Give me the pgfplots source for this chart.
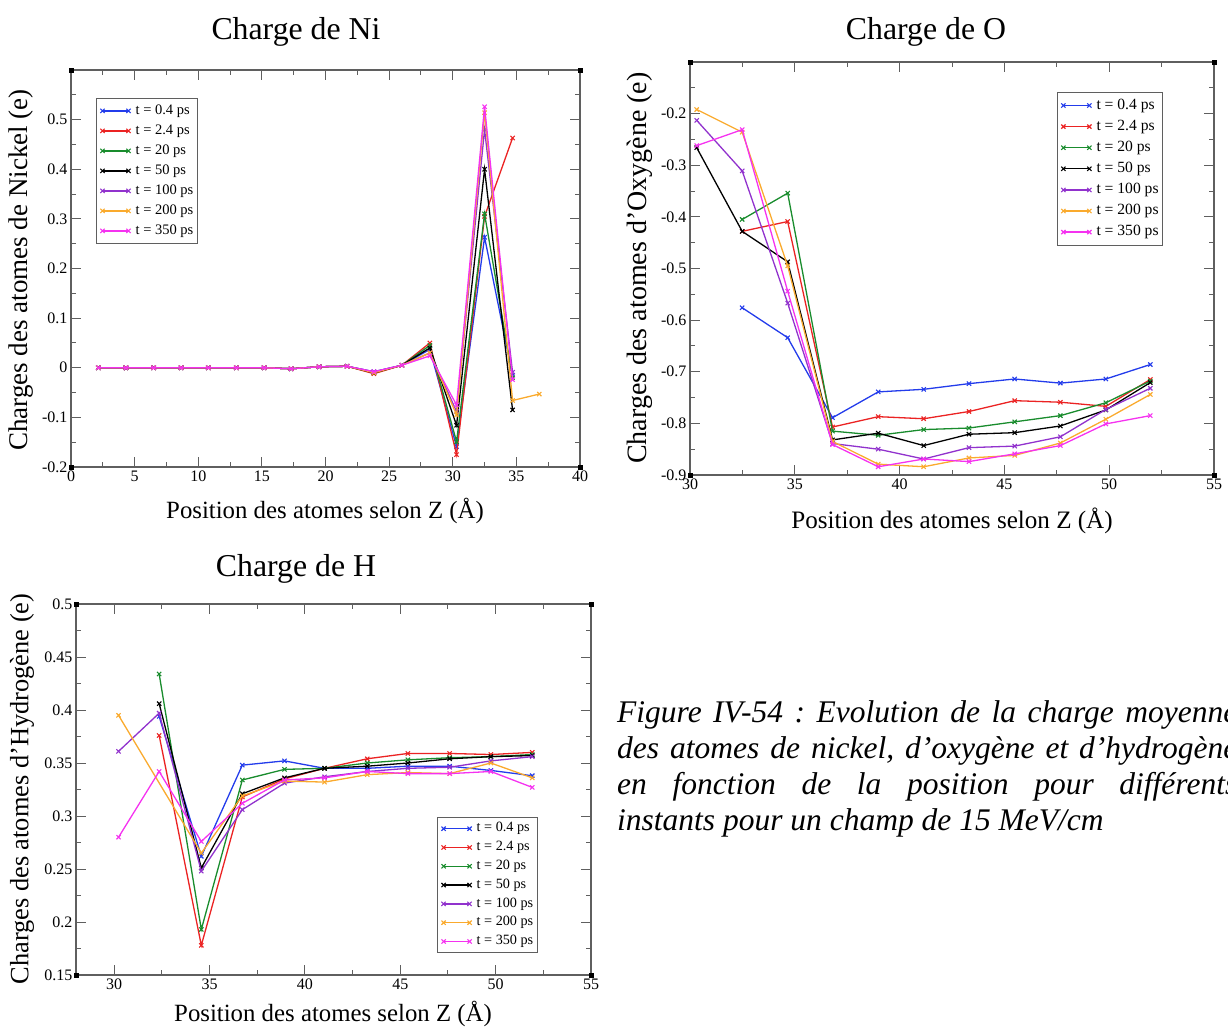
\documentclass[border=0pt]{standalone}
\usepackage{fontspec}
\setmainfont{Liberation Serif}
\usepackage{pgfplots}
\pgfplotsset{compat=1.18}
\frenchspacing
\definecolor{cblue}{RGB}{35,60,235}
\definecolor{cred}{RGB}{235,35,35}
\definecolor{cgreen}{RGB}{25,140,45}
\definecolor{cblack}{RGB}{0,0,0}
\definecolor{cpurple}{RGB}{145,50,205}
\definecolor{corange}{RGB}{250,170,45}
\definecolor{cmag}{RGB}{245,50,240}
\definecolor{axgray}{RGB}{95,95,95}
\newcommand{\fs}[1]{\fontsize{#1}{#1}\selectfont}
\pgfplotsset{
  xmg/.style={
    scale only axis,
    anchor=south west,
    clip mode=individual,
    axis line style={draw=axgray, line width=1.3pt},
    tick style={draw=axgray, line width=1pt},
    major tick length=10pt,
    minor tick length=5pt,
    tick align=inside,
    xtick pos=both, ytick pos=both,
    tick label style={font=\fs{16}},
    every axis plot/.append style={line width=1.3pt, mark=x, mark size=3pt, mark options={solid, line width=1.1pt}},
    legend cell align=left,
    legend image code/.code={\draw[##1, line width=1.3pt, mark options={solid, line width=1.1pt}] plot coordinates {(0pt,0pt) (26pt,0pt)};},
    legend style={anchor=north west, draw=axgray, line width=0.9pt, fill=white,
      inner xsep=4pt, column sep=5pt},
    after end axis/.code={
      \fill[black] (rel axis cs:0,0) ++(-2.5pt,-2.5pt) rectangle ++(5pt,5pt);
      \fill[black] (rel axis cs:1,0) ++(-2.5pt,-2.5pt) rectangle ++(5pt,5pt);
      \fill[black] (rel axis cs:0,1) ++(-2.5pt,-2.5pt) rectangle ++(5pt,5pt);
      \fill[black] (rel axis cs:1,1) ++(-2.5pt,-2.5pt) rectangle ++(5pt,5pt);
    },
  },
}
\begin{document}
\begin{tikzpicture}[x=1pt,y=1pt]
\path[use as bounding box] (0,0) rectangle (1228,-1028);

% ---------------- Ni ----------------
\begin{axis}[xmg, at={(71pt,-467pt)}, width=509pt, height=397pt,
  xmin=0, xmax=40, ymin=-0.2, ymax=0.6,
  xtick={0,5,10,15,20,25,30,35,40}, xticklabels={0,5,10,15,20,25,30,35,40},
  minor xtick={2.5,7.5,12.5,17.5,22.5,27.5,32.5,37.5},
  ytick={-0.2,-0.1,0,0.1,0.2,0.3,0.4,0.5}, yticklabels={-0.2,-0.1,0,0.1,0.2,0.3,0.4,0.5},
  minor ytick={-0.15,-0.05,0.05,0.15,0.25,0.35,0.45,0.55},
  legend style={at={(0.049,0.929)}, font=\fs{14.5}, inner ysep=5.5pt, row sep=6.5pt,
    nodes={inner sep=0pt, text height=10pt, text depth=3.5pt}},
]
\addplot[cblue] coordinates {(2.15,0)(4.32,0)(6.5,0)(8.65,0)(10.8,0)(13.0,0)(15.17,0)(17.3,-0.002)(19.5,0.002)(21.7,0.003)(23.8,-0.008)(26.0,0.005)(28.2,0.037)(30.3,-0.159)(32.5,0.263)(34.7,-0.015)};
\addlegendentry{t = 0.4 ps}
\addplot[cred] coordinates {(2.15,0)(4.32,0)(6.5,0)(8.65,0)(10.8,0)(13.0,0)(15.17,0)(17.3,-0.002)(19.5,0.002)(21.7,0.003)(23.8,-0.012)(26.0,0.005)(28.2,0.050)(30.3,-0.175)(32.5,0.305)(34.7,0.463)};
\addlegendentry{t = 2.4 ps}
\addplot[cgreen] coordinates {(2.15,0)(4.32,0)(6.5,0)(8.65,0)(10.8,0)(13.0,0)(15.17,0)(17.3,-0.002)(19.5,0.002)(21.7,0.003)(23.8,-0.010)(26.0,0.005)(28.2,0.045)(30.3,-0.149)(32.5,0.310)(34.7,-0.020)};
\addlegendentry{t = 20 ps}
\addplot[cblack] coordinates {(2.15,0)(4.32,0)(6.5,0)(8.65,0)(10.8,0)(13.0,0)(15.17,0)(17.3,-0.002)(19.5,0.002)(21.7,0.003)(23.8,-0.010)(26.0,0.005)(28.2,0.040)(30.3,-0.116)(32.5,0.400)(34.7,-0.085)};
\addlegendentry{t = 50 ps}
\addplot[cpurple] coordinates {(2.15,0)(4.32,0)(6.5,0)(8.65,0)(10.8,0)(13.0,0)(15.17,0)(17.3,-0.002)(19.5,0.002)(21.7,0.003)(23.8,-0.008)(26.0,0.005)(28.2,0.030)(30.3,-0.088)(32.5,0.480)(34.7,-0.009)};
\addlegendentry{t = 100 ps}
\addplot[corange] coordinates {(2.15,0)(4.32,0)(6.5,0)(8.65,0)(10.8,0)(13.0,0)(15.17,0)(17.3,-0.002)(19.5,0.002)(21.7,0.003)(23.8,-0.010)(26.0,0.005)(28.2,0.030)(30.3,-0.095)(32.5,0.514)(34.7,-0.066)(36.8,-0.053)};
\addlegendentry{t = 200 ps}
\addplot[cmag] coordinates {(2.15,0)(4.32,0)(6.5,0)(8.65,0)(10.8,0)(13.0,0)(15.17,0)(17.3,-0.002)(19.5,0.002)(21.7,0.003)(23.8,-0.008)(26.0,0.005)(28.2,0.024)(30.3,-0.075)(32.5,0.526)(34.7,-0.024)};
\addlegendentry{t = 350 ps}
\end{axis}

% ---------------- O ----------------
\begin{axis}[xmg, at={(690pt,-475pt)}, width=524pt, height=413pt,
  xmin=30, xmax=55, ymin=-0.9, ymax=-0.1,
  xtick={30,35,40,45,50,55}, xticklabels={30,35,40,45,50,55},
  minor xtick={32.5,37.5,42.5,47.5,52.5},
  ytick={-0.9,-0.8,-0.7,-0.6,-0.5,-0.4,-0.3,-0.2}, yticklabels={-0.9,-0.8,-0.7,-0.6,-0.5,-0.4,-0.3,-0.2},
  minor ytick={-0.85,-0.75,-0.65,-0.55,-0.45,-0.35,-0.25,-0.15},
  legend style={at={(0.700,0.927)}, font=\fs{15.6}, inner ysep=5.5pt, row sep=6.3pt,
    nodes={inner sep=0pt, text height=11pt, text depth=3.8pt}},
]
\addplot[cblue] coordinates {(32.49,-0.576)(34.66,-0.634)(36.8,-0.789)(38.98,-0.739)(41.15,-0.734)(43.31,-0.723)(45.49,-0.714)(47.67,-0.722)(49.84,-0.714)(51.96,-0.686)};
\addlegendentry{t = 0.4 ps}
\addplot[cred] coordinates {(32.49,-0.428)(34.66,-0.409)(36.8,-0.807)(38.98,-0.787)(41.15,-0.791)(43.31,-0.777)(45.49,-0.756)(47.67,-0.759)(49.84,-0.767)(51.96,-0.715)};
\addlegendentry{t = 2.4 ps}
\addplot[cgreen] coordinates {(32.49,-0.405)(34.66,-0.354)(36.8,-0.815)(38.98,-0.823)(41.15,-0.812)(43.31,-0.809)(45.49,-0.797)(47.67,-0.785)(49.84,-0.760)(51.96,-0.718)};
\addlegendentry{t = 20 ps}
\addplot[cblack] coordinates {(30.32,-0.266)(32.49,-0.428)(34.66,-0.487)(36.8,-0.832)(38.98,-0.819)(41.15,-0.843)(43.31,-0.821)(45.49,-0.818)(47.67,-0.805)(49.84,-0.774)(51.96,-0.721)};
\addlegendentry{t = 50 ps}
\addplot[cpurple] coordinates {(30.32,-0.213)(32.49,-0.311)(34.66,-0.567)(36.8,-0.839)(38.98,-0.850)(41.15,-0.869)(43.31,-0.847)(45.49,-0.844)(47.67,-0.826)(49.84,-0.773)(51.96,-0.732)};
\addlegendentry{t = 100 ps}
\addplot[corange] coordinates {(30.32,-0.192)(32.49,-0.236)(34.66,-0.495)(36.8,-0.835)(38.98,-0.879)(41.15,-0.884)(43.31,-0.867)(45.49,-0.862)(47.67,-0.838)(49.84,-0.792)(51.96,-0.744)};
\addlegendentry{t = 200 ps}
\addplot[cmag] coordinates {(30.32,-0.262)(32.49,-0.231)(34.66,-0.544)(36.8,-0.841)(38.98,-0.884)(41.15,-0.869)(43.31,-0.874)(45.49,-0.859)(47.67,-0.843)(49.84,-0.801)(51.96,-0.785)};
\addlegendentry{t = 350 ps}
\end{axis}

% ---------------- H ----------------
\begin{axis}[xmg, at={(76pt,-975pt)}, width=515pt, height=371pt,
  xmin=28, xmax=55, ymin=0.15, ymax=0.5,
  xtick={30,35,40,45,50,55}, xticklabels={30,35,40,45,50,55},
  minor xtick={32.5,37.5,42.5,47.5,52.5},
  ytick={0.15,0.2,0.25,0.3,0.35,0.4,0.45,0.5}, yticklabels={0.15,0.2,0.25,0.3,0.35,0.4,0.45,0.5},
  minor ytick={0.175,0.225,0.275,0.325,0.375,0.425,0.475},
  legend style={at={(0.701,0.426)}, font=\fs{14.2}, inner ysep=4.5pt, row sep=5.3pt,
    nodes={inner sep=0pt, text height=10pt, text depth=3.5pt}},
]
\addplot[cblue] coordinates {(32.36,0.394)(34.57,0.262)(36.72,0.348)(38.93,0.352)(41.03,0.345)(43.27,0.345)(45.40,0.347)(47.59,0.347)(49.75,0.343)(51.92,0.338)};
\addlegendentry{t = 0.4 ps}
\addplot[cred] coordinates {(32.36,0.376)(34.57,0.178)(36.72,0.318)(38.93,0.335)(41.03,0.345)(43.27,0.354)(45.40,0.359)(47.59,0.359)(49.75,0.358)(51.92,0.360)};
\addlegendentry{t = 2.4 ps}
\addplot[cgreen] coordinates {(32.36,0.434)(34.57,0.193)(36.72,0.334)(38.93,0.344)(41.03,0.345)(43.27,0.350)(45.40,0.353)(47.59,0.355)(49.75,0.356)(51.92,0.358)};
\addlegendentry{t = 20 ps}
\addplot[cblack] coordinates {(32.36,0.406)(34.57,0.251)(36.72,0.321)(38.93,0.336)(41.03,0.345)(43.27,0.347)(45.40,0.350)(47.59,0.354)(49.75,0.356)(51.92,0.357)};
\addlegendentry{t = 50 ps}
\addplot[cpurple] coordinates {(30.23,0.361)(32.36,0.397)(34.57,0.248)(36.72,0.306)(38.93,0.331)(41.03,0.337)(43.27,0.342)(45.40,0.345)(47.59,0.346)(49.75,0.352)(51.92,0.356)};
\addlegendentry{t = 100 ps}
\addplot[corange] coordinates {(30.23,0.395)(34.57,0.265)(36.72,0.319)(38.93,0.333)(41.03,0.332)(43.27,0.339)(45.40,0.341)(47.59,0.340)(49.75,0.350)(51.92,0.336)};
\addlegendentry{t = 200 ps}
\addplot[cmag] coordinates {(30.23,0.280)(32.36,0.342)(34.57,0.276)(36.72,0.312)(38.93,0.334)(41.03,0.336)(43.27,0.342)(45.40,0.340)(47.59,0.340)(49.75,0.342)(51.92,0.327)};
\addlegendentry{t = 350 ps}
\end{axis}

% ---------------- titles and labels ----------------
\node[anchor=base, inner sep=0pt, font=\fs{31.8}] at (296,-39) {Charge de Ni};
\node[anchor=base, inner sep=0pt, font=\fs{31.8}] at (926,-39) {Charge de O};
\node[anchor=base, inner sep=0pt, font=\fs{31.8}] at (296,-576) {Charge de H};

\node[anchor=base, inner sep=0pt, font=\fs{24.8}] at (325,-518) {Position des atomes selon Z (Å)};
\node[anchor=base, inner sep=0pt, font=\fs{25.1}] at (952,-528) {Position des atomes selon Z (Å)};
\node[anchor=base, inner sep=0pt, font=\fs{24.8}] at (333,-1021) {Position des atomes selon Z (Å)};

\node[rotate=90, inner sep=0pt, font=\fs{27}] at (21,-270) {Charges des atomes de Nickel (e)};
\node[rotate=90, inner sep=0pt, font=\fs{28}] at (640,-268) {Charges des atomes d’Oxygène (e)};
\node[rotate=90, inner sep=0pt, font=\fs{26.4}] at (22,-789) {Charges des atomes d’Hydrogène (e)};

% ---------------- caption ----------------
\begin{scope}[every node/.style={anchor=base west, inner sep=0pt, font=\fs{31.5}\itshape}]
\node at (617,-722) {\makebox[620pt][s]{Figure IV-54 : Evolution de la charge moyenne}};
\node at (617,-758) {\makebox[620pt][s]{des atomes de nickel, d’oxygène et d’hydrogène}};
\node at (617,-794) {\makebox[620pt][s]{en fonction de la position pour différents}};
\node at (617,-830) {instants pour un champ de 15 MeV/cm};
\end{scope}
\end{tikzpicture}
\end{document}
